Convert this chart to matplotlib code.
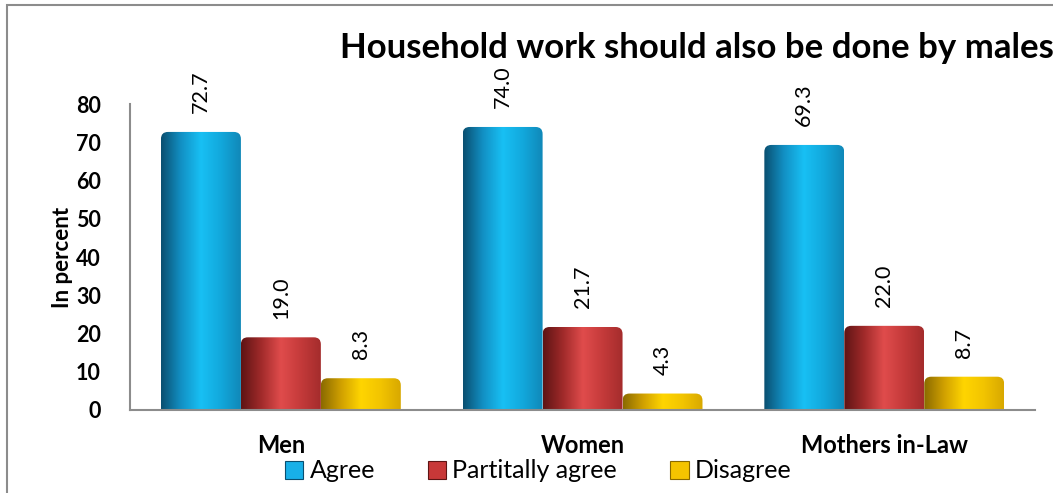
import numpy as np
import matplotlib
matplotlib.use('Agg')
import matplotlib.pyplot as plt
from matplotlib.colors import LinearSegmentedColormap
from matplotlib.patches import Patch, Rectangle, FancyBboxPatch

plt.rcParams['font.family'] = ['Lato', 'DejaVu Sans']

# data
groups = ['Men', 'Women', 'Mothers in-Law']
series = ['Agree', 'Partitally agree', 'Disagree']
agree = [72.7, 74.0, 69.3]
partial = [19.0, 21.7, 22.0]
disagree = [8.3, 4.3, 8.7]
values = [agree, partial, disagree]

# gradient stops per series: dark edge -> bright middle -> slightly dark edge
shades = [
    ['#0a4f70', '#1290c4', '#18c0f4', '#12a8dc', '#1088b8'],
    ['#5e1414', '#a02a2a', '#e04c4c', '#c43a3a', '#a42c2c'],
    ['#8a6a00', '#d0a000', '#ffd500', '#f2c400', '#d8a800'],
]
flat = ['#18b0e8', '#c83838', '#f5c400']

fig = plt.figure(figsize=(10.53, 4.93), dpi=100)
ax = fig.add_axes([0.1235, 0.1684, 0.8595, 0.6206])

x = np.arange(len(groups))
w = 0.265
offsets = [-w, 0, w]

ax.set_xlim(-0.5, 2.5)
ax.set_ylim(0, 80)

# px per data unit, used to keep the rounded bar tops circular
bb = ax.get_window_extent()
aspect = (bb.width / 3.0) / (bb.height / 80.0)
r = 7.0 / (bb.width / 3.0)

grad = np.linspace(0, 1, 256).reshape(1, -1)
for i, vals in enumerate(values):
    bars = ax.bar(x + offsets[i], vals, width=w, color='none', edgecolor='none', zorder=2)
    cmap = LinearSegmentedColormap.from_list('c%d' % i, shades[i])
    for b, v in zip(bars, vals):
        bx, by = b.get_x(), b.get_y()
        bw, bh = b.get_width(), b.get_height()
        clip = FancyBboxPatch((bx, by - 5), bw, bh + 5,
                              boxstyle='round,pad=0,rounding_size=%f' % r,
                              mutation_aspect=aspect, facecolor='none',
                              edgecolor='none', transform=ax.transData)
        ax.add_patch(clip)
        im = ax.imshow(grad, cmap=cmap, aspect='auto', zorder=2,
                       extent=[bx, bx + bw, by, by + bh], interpolation='bicubic')
        im.set_clip_path(clip)
        ax.annotate('%.1f' % v, (bx + bw / 2, by + bh), xytext=(0, 13.5),
                    textcoords='offset points', rotation=90,
                    ha='center', va='bottom', fontsize=15.5)

ax.set_xlim(-0.5, 2.5)
ax.set_ylim(0, 80)
ax.set_yticks(range(0, 81, 10))
ax.set_xticks(x)
ax.set_xticklabels(groups, fontsize=17, fontweight='bold')
ax.tick_params(axis='y', length=0, pad=21, labelsize=15.5)
ax.tick_params(axis='x', length=0, pad=17)
for t in ax.get_yticklabels():
    t.set_fontweight('bold')
ax.set_ylabel('In percent', fontsize=16, fontweight='bold', labelpad=2)

for s in ['top', 'right']:
    ax.spines[s].set_visible(False)
for s in ['left', 'bottom']:
    ax.spines[s].set_color('#8c8c8c')
    ax.spines[s].set_linewidth(1.5)

fig.text(340 / 1053, 1 - 58 / 493, 'Household work should also be done by males',
         fontsize=25, fontweight='bold', ha='left', va='baseline')

handles = [Patch(facecolor=flat[i], edgecolor=shades[i][0], linewidth=0.8) for i in range(3)]
fig.legend(handles, series, loc='center', bbox_to_anchor=(538 / 1053, 1 - 471 / 493), ncol=3,
           frameon=False, fontsize=18, handlelength=0.75, handleheight=0.75,
           handletextpad=0.25, columnspacing=2.1, borderpad=0)

# outer chart frame
fig.patches.append(Rectangle((7 / 1053, -0.5), 2, 1 - 5 / 493 + 0.5,
                             transform=fig.transFigure, fill=False,
                             edgecolor='#8c8c8c', linewidth=1.5))

fig.savefig('out.png', dpi=100)
